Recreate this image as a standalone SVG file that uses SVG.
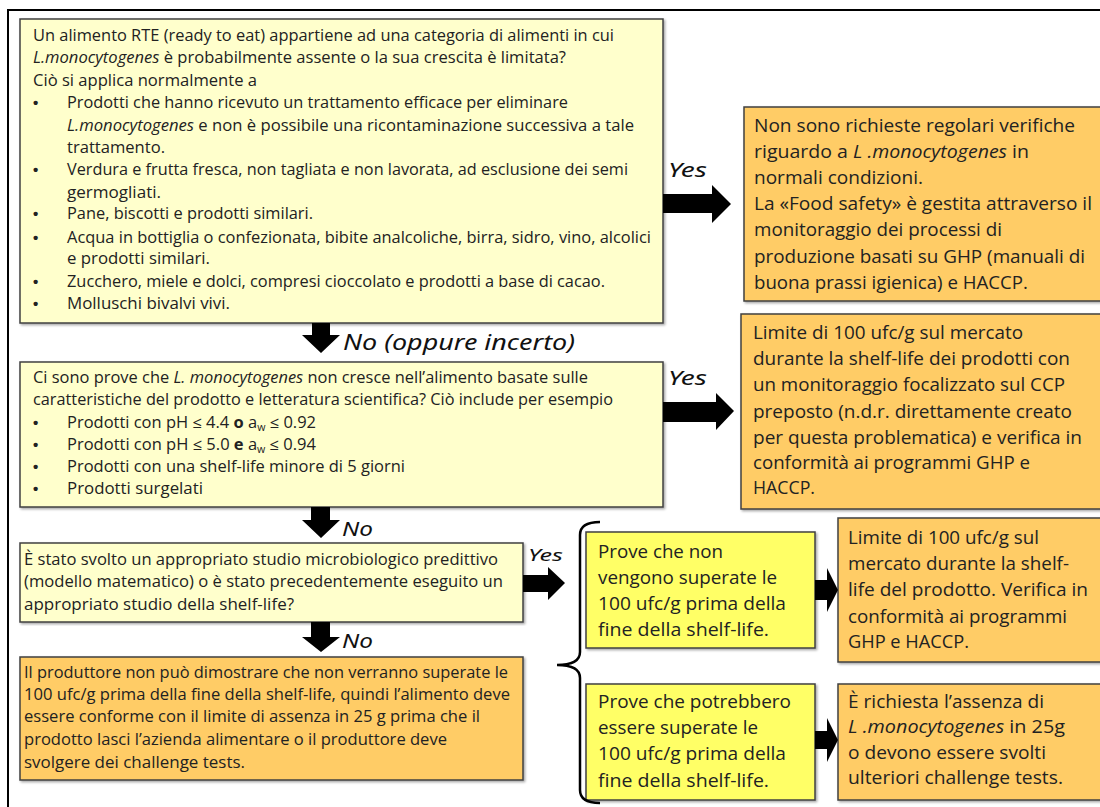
<svg xmlns="http://www.w3.org/2000/svg" width="1100" height="807" viewBox="0 0 1100 807">
<defs>
<filter id="sh" x="-5%" y="-5%" width="110%" height="110%">
<feDropShadow dx="1.5" dy="1.5" stdDeviation="1" flood-color="#000" flood-opacity="0.35"/>
</filter>
<style>
.box{stroke:#404040;stroke-width:1.5;filter:url(#sh)}
.ly{fill:#FFFFCC}
.or{fill:#FFCC66}
.by{fill:#FFFF66}
text{font-family:"Open Sans","Liberation Sans",sans-serif;fill:#222}
.s{font-size:15.5px}
.m{font-size:16px}
.l{font-size:18.5px}
.i{font-style:italic}
.b{font-weight:bold}
.bu{font-size:15px;font-weight:bold;font-family:"Liberation Sans",sans-serif}
.lab{font-family:"Noto Sans","DejaVu Sans",sans-serif;font-style:italic;fill:#111}
.arr{fill:#000}
</style>
</defs>
<rect width="1100" height="807" fill="#fff"/>
<path d="M8,807 V10 H1100" fill="none" stroke="#000" stroke-width="2"/>

<g id="q1">
<rect class="box ly" x="20" y="19" width="643" height="304"/>
<text class="s" x="33" y="41" textLength="581" lengthAdjust="spacingAndGlyphs">Un alimento RTE (ready to eat) appartiene ad una categoria di alimenti in cui</text>
<text class="s" x="33" y="63" textLength="533" lengthAdjust="spacingAndGlyphs"><tspan class="i">L.monocytogenes</tspan> è probabilmente assente o la sua crescita è limitata?</text>
<text class="s" x="33" y="86" textLength="224" lengthAdjust="spacingAndGlyphs">Ciò si applica normalmente  a</text>
<text class="bu" x="33" y="108">•</text>
<text class="s" x="67" y="108" textLength="501" lengthAdjust="spacingAndGlyphs">Prodotti che hanno ricevuto un trattamento efficace per eliminare</text>
<text class="s" x="67" y="131" textLength="567" lengthAdjust="spacingAndGlyphs"><tspan class="i">L.monocytogenes</tspan> e non  è possibile una ricontaminazione successiva a tale</text>
<text class="s" x="67" y="153" textLength="98" lengthAdjust="spacingAndGlyphs">trattamento.</text>
<text class="bu" x="33" y="175">•</text>
<text class="s" x="67" y="175" textLength="561" lengthAdjust="spacingAndGlyphs">Verdura e frutta fresca, non tagliata e non lavorata, ad esclusione dei semi</text>
<text class="s" x="67" y="198" textLength="94" lengthAdjust="spacingAndGlyphs">germogliati.</text>
<text class="bu" x="33" y="219">•</text>
<text class="s" x="67" y="219" textLength="246" lengthAdjust="spacingAndGlyphs">Pane, biscotti e prodotti similari.</text>
<text class="bu" x="33" y="243">•</text>
<text class="s" x="67" y="243" textLength="584" lengthAdjust="spacingAndGlyphs">Acqua in bottiglia o confezionata, bibite analcoliche, birra, sidro, vino, alcolici</text>
<text class="s" x="67" y="264" textLength="143" lengthAdjust="spacingAndGlyphs">e prodotti similari.</text>
<text class="bu" x="33" y="287">•</text>
<text class="s" x="67" y="287" textLength="538" lengthAdjust="spacingAndGlyphs">Zucchero, miele e dolci, compresi cioccolato e prodotti a base di cacao.</text>
<text class="bu" x="33" y="309">•</text>
<text class="s" x="67" y="309" textLength="163" lengthAdjust="spacingAndGlyphs">Molluschi bivalvi vivi.</text>
</g>

<g id="q2">
<rect class="box ly" x="20" y="362" width="643" height="145"/>
<text class="s" x="33" y="383" textLength="555" lengthAdjust="spacingAndGlyphs">Ci sono prove che <tspan class="i">L. monocytogenes</tspan> non cresce nell’alimento basate sulle</text>
<text class="s" x="33" y="405" textLength="580" lengthAdjust="spacingAndGlyphs">caratteristiche del prodotto e letteratura scientifica? Ciò include per esempio</text>
<text class="bu" x="33" y="428">•</text>
<text class="s" x="67" y="428" textLength="249" lengthAdjust="spacingAndGlyphs">Prodotti con pH ≤ 4.4 <tspan class="b">o</tspan> a<tspan font-size="10" dy="3">w</tspan><tspan dy="-3"> ≤ 0.92</tspan></text>
<text class="bu" x="33" y="450">•</text>
<text class="s" x="67" y="450" textLength="249" lengthAdjust="spacingAndGlyphs">Prodotti con pH ≤ 5.0 <tspan class="b">e</tspan> a<tspan font-size="10" dy="3">w</tspan><tspan dy="-3"> ≤ 0.94</tspan></text>
<text class="bu" x="33" y="472">•</text>
<text class="s" x="67" y="472" textLength="338" lengthAdjust="spacingAndGlyphs">Prodotti con una shelf-life minore di 5 giorni</text>
<text class="bu" x="33" y="494">•</text>
<text class="s" x="67" y="494" textLength="136" lengthAdjust="spacingAndGlyphs">Prodotti surgelati</text>
</g>

<g id="q3">
<rect class="box ly" x="20" y="543" width="503" height="79"/>
<text class="m" x="24" y="565" textLength="474" lengthAdjust="spacingAndGlyphs">È stato svolto un appropriato studio microbiologico predittivo</text>
<text class="m" x="24" y="587" textLength="479" lengthAdjust="spacingAndGlyphs">(modello matematico) o è stato precedentemente eseguito un</text>
<text class="m" x="24" y="610" textLength="270" lengthAdjust="spacingAndGlyphs">appropriato studio della shelf-life?</text>
</g>

<g id="r4">
<rect class="box or" x="20" y="657" width="503" height="123"/>
<text class="m" x="24" y="678" textLength="484" lengthAdjust="spacingAndGlyphs">Il produttore non può dimostrare che non verranno superate le</text>
<text class="m" x="24" y="700" textLength="486" lengthAdjust="spacingAndGlyphs">100 ufc/g prima della fine della shelf-life, quindi l’alimento deve</text>
<text class="m" x="24" y="722" textLength="456" lengthAdjust="spacingAndGlyphs">essere conforme con il limite di assenza in 25 g prima che il</text>
<text class="m" x="24" y="745" textLength="423" lengthAdjust="spacingAndGlyphs">prodotto lasci l’azienda alimentare o il produttore deve</text>
<text class="m" x="24" y="768" textLength="221" lengthAdjust="spacingAndGlyphs">svolgere dei challenge tests.</text>
</g>

<g id="r1">
<rect class="box or" x="744" y="107" width="362" height="194"/>
<text class="l" x="754" y="132" textLength="321" lengthAdjust="spacingAndGlyphs">Non sono richieste regolari verifiche</text>
<text class="l" x="754" y="158" textLength="275" lengthAdjust="spacingAndGlyphs">riguardo a <tspan class="i">L .monocytogenes</tspan> in</text>
<text class="l" x="754" y="184" textLength="169" lengthAdjust="spacingAndGlyphs">normali condizioni.</text>
<text class="l" x="754" y="210" textLength="338" lengthAdjust="spacingAndGlyphs">La «Food safety» è gestita attraverso il</text>
<text class="l" x="754" y="236" textLength="248" lengthAdjust="spacingAndGlyphs">monitoraggio dei processi di</text>
<text class="l" x="754" y="263" textLength="331" lengthAdjust="spacingAndGlyphs">produzione basati su GHP (manuali di</text>
<text class="l" x="754" y="289" textLength="274" lengthAdjust="spacingAndGlyphs">buona prassi igienica) e HACCP.</text>
</g>

<g id="r2">
<rect class="box or" x="741" y="314" width="365" height="195"/>
<text class="l" x="753" y="339" textLength="270" lengthAdjust="spacingAndGlyphs">Limite di 100  ufc/g sul mercato</text>
<text class="l" x="753" y="365" textLength="317" lengthAdjust="spacingAndGlyphs">durante la shelf-life dei prodotti con</text>
<text class="l" x="753" y="391" textLength="312" lengthAdjust="spacingAndGlyphs">un monitoraggio focalizzato sul CCP</text>
<text class="l" x="753" y="418" textLength="319" lengthAdjust="spacingAndGlyphs">preposto (n.d.r. direttamente creato</text>
<text class="l" x="753" y="444" textLength="329" lengthAdjust="spacingAndGlyphs">per questa problematica) e verifica in</text>
<text class="l" x="753" y="469" textLength="277" lengthAdjust="spacingAndGlyphs">conformità ai programmi GHP e</text>
<text class="l" x="753" y="494" textLength="62" lengthAdjust="spacingAndGlyphs">HACCP.</text>
</g>

<g id="yA">
<rect class="box by" x="586" y="532" width="229" height="116"/>
<text class="l" x="598" y="558" textLength="125" lengthAdjust="spacingAndGlyphs">Prove che non</text>
<text class="l" x="598" y="584" textLength="179" lengthAdjust="spacingAndGlyphs">vengono superate le</text>
<text class="l" x="598" y="610" textLength="188" lengthAdjust="spacingAndGlyphs">100  ufc/g prima della</text>
<text class="l" x="598" y="636" textLength="171" lengthAdjust="spacingAndGlyphs">fine della shelf-life.</text>
</g>

<g id="yB">
<rect class="box by" x="586" y="684" width="229" height="116"/>
<text class="l" x="598" y="708" textLength="193" lengthAdjust="spacingAndGlyphs">Prove che potrebbero</text>
<text class="l" x="598" y="734" textLength="160" lengthAdjust="spacingAndGlyphs">essere superate le</text>
<text class="l" x="598" y="760" textLength="188" lengthAdjust="spacingAndGlyphs">100  ufc/g prima della</text>
<text class="l" x="598" y="787" textLength="171" lengthAdjust="spacingAndGlyphs">fine della shelf-life.</text>
</g>

<g id="rC">
<rect class="box or" x="838" y="518" width="268" height="144"/>
<text class="l" x="848" y="544" textLength="191" lengthAdjust="spacingAndGlyphs">Limite di 100  ufc/g sul</text>
<text class="l" x="848" y="570" textLength="221" lengthAdjust="spacingAndGlyphs">mercato durante la shelf-</text>
<text class="l" x="848" y="596" textLength="240" lengthAdjust="spacingAndGlyphs">life del prodotto. Verifica in</text>
<text class="l" x="848" y="623" textLength="219" lengthAdjust="spacingAndGlyphs">conformità ai programmi</text>
<text class="l" x="848" y="648" textLength="121" lengthAdjust="spacingAndGlyphs">GHP  e HACCP.</text>
</g>

<g id="rD">
<rect class="box or" x="838" y="684" width="268" height="116"/>
<text class="l" x="848" y="708" textLength="196" lengthAdjust="spacingAndGlyphs">È richiesta l’assenza di</text>
<text class="l" x="848" y="733" textLength="217" lengthAdjust="spacingAndGlyphs"><tspan class="i">L .monocytogenes</tspan> in 25g</text>
<text class="l" x="848" y="759" textLength="198" lengthAdjust="spacingAndGlyphs">o devono essere svolti</text>
<text class="l" x="848" y="784" textLength="215" lengthAdjust="spacingAndGlyphs">ulteriori challenge tests.</text>
</g>

<g id="connectors">
<polygon class="arr" points="663,194 712,194 712,185 731,204 712,223 712,213 663,213"/>
<polygon class="arr" points="663,402 716,402 716,393 734,411 716,430 716,422 663,422"/>
<polygon class="arr" points="312,323 330,323 330,335 340,335 321,353 302,335 312,335"/>
<polygon class="arr" points="311,507 330,507 330,520 340,520 321,538 302,520 311,520"/>
<polygon class="arr" points="311,622 330,622 330,637 340,637 321,652 302,637 311,637"/>
<polygon class="arr" points="523,575 548,575 548,567 565,583 548,600 548,592 523,592"/>
<polygon class="arr" points="815,580 827,580 827,568 838,590 827,612 827,600 815,600"/>
<polygon class="arr" points="815,731 827,731 827,718 838,740 827,762 827,749 815,749"/>
<path d="M600,522 Q580,522 580,535 V652 Q580,665 557,665 Q580,665 580,678 V790 Q580,803 600,803" fill="none" stroke="#000" stroke-width="2.5"/>
<text class="lab" x="668" y="177" font-size="19" textLength="39" lengthAdjust="spacingAndGlyphs">Yes</text>
<text class="lab" x="668" y="385" font-size="19" textLength="39" lengthAdjust="spacingAndGlyphs">Yes</text>
<text class="lab" x="528" y="561" font-size="17" textLength="35" lengthAdjust="spacingAndGlyphs">Yes</text>
<text class="lab" x="343" y="350" font-size="21" textLength="232" lengthAdjust="spacingAndGlyphs">No (oppure incerto)</text>
<text class="lab" x="342" y="536" font-size="20" textLength="31" lengthAdjust="spacingAndGlyphs">No</text>
<text class="lab" x="342" y="648" font-size="20" textLength="31" lengthAdjust="spacingAndGlyphs">No</text>
</g>
</svg>
